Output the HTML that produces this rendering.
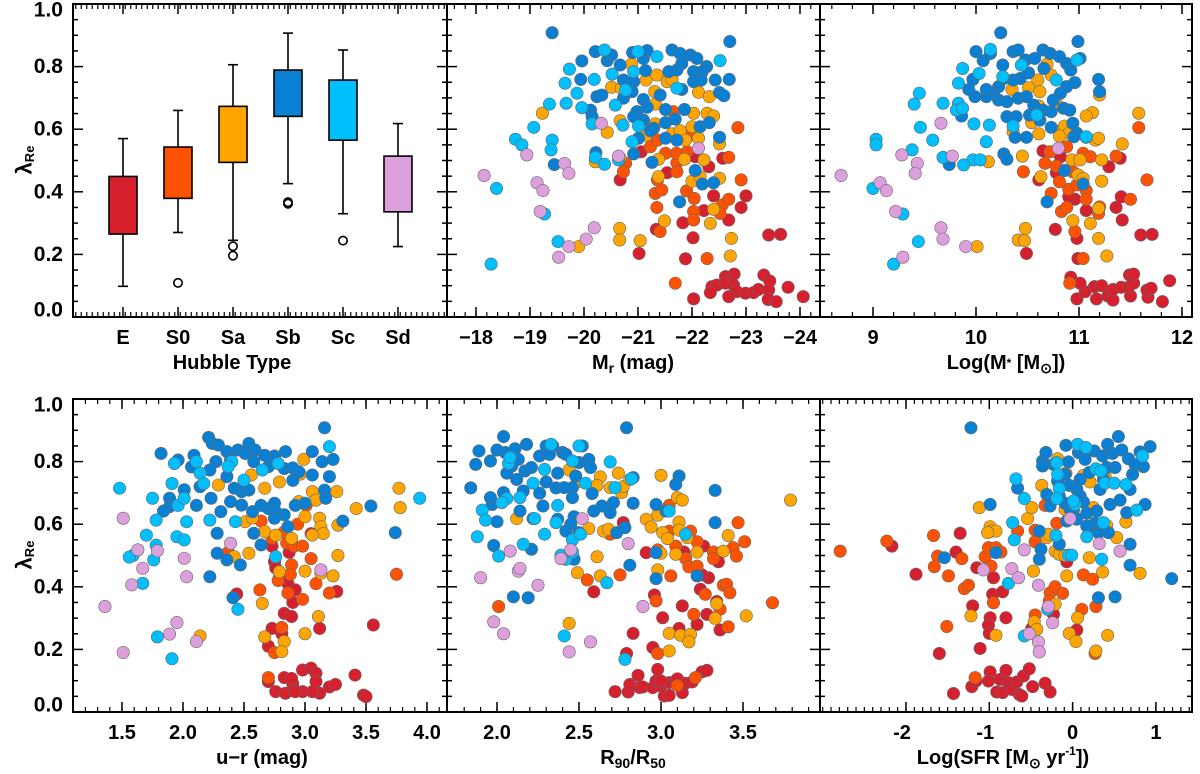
<!DOCTYPE html>
<html><head><meta charset="utf-8"><title>lambda_Re vs galaxy properties</title>
<style>
html,body{margin:0;padding:0;background:#fff;}
svg{display:block;font-family:"Liberation Sans",sans-serif;font-weight:bold;}
</style></head>
<body>
<svg id="fig" width="1200" height="774" viewBox="0 0 1200 774" xmlns="http://www.w3.org/2000/svg"></svg>
<script>
// ===== Data =====
const hubbleTypes = ["E","S0","Sa","Sb","Sc","Sd"];
const boxWhiskerHigh = [0.57,0.66,0.806,0.907,0.853,0.618];
const boxQ3 = [0.449,0.543,0.673,0.789,0.757,0.514];
const boxQ1 = [0.265,0.379,0.494,0.641,0.565,0.336];
const boxWhiskerLow = [0.098,0.27,0.245,0.426,0.33,0.225];
const boxOutliers = [[],[0.109],[0.226,0.196],[0.367,0.362],[0.244],[]];

// Mr panel
const mrE = [[-22.03,0.058],[-22.37,0.097],[-22.46,0.102],[-22.62,0.129],[-22.78,0.137],[-22.62,0.108],[-22.77,0.102],[-22.83,0.081],[-22.99,0.076],[-23.14,0.078],[-23.23,0.088],[-23.33,0.134],[-23.44,0.115],[-23.42,0.086],[-23.41,0.056],[-23.56,0.049],[-23.78,0.095],[-24.06,0.065],[-22.68,0.065],[-22.34,0.078],[-23.42,0.262],[-23.64,0.264],[-22.02,0.253],[-21.88,0.186],[-21.02,0.203],[-21.34,0.28],[-21.83,0.301],[-22.22,0.34],[-22.40,0.387],[-22.68,0.31],[-22.91,0.35],[-23.00,0.387],[-21.54,0.461],[-22.31,0.48],[-22.57,0.507],[-20.67,0.438],[-21.06,0.528],[-22.06,0.512]];
const mrS0 = [[-22.85,0.605],[-21.69,0.108],[-22.28,0.187],[-21.35,0.35],[-21.41,0.273],[-21.32,0.395],[-21.44,0.406],[-21.36,0.438],[-21.90,0.403],[-22.04,0.379],[-22.03,0.337],[-22.03,0.31],[-22.56,0.358],[-22.68,0.376],[-22.91,0.438],[-22.52,0.331],[-21.72,0.493],[-21.72,0.464],[-21.71,0.523],[-21.91,0.528],[-21.97,0.581],[-21.51,0.523],[-21.23,0.544],[-21.36,0.565],[-20.77,0.491],[-20.73,0.464],[-21.65,0.656],[-22.68,0.51]];
const mrSa = [[-19.23,0.651],[-20.88,0.808],[-21.15,0.757],[-21.35,0.773],[-21.54,0.752],[-21.63,0.759],[-20.51,0.734],[-20.69,0.731],[-21.31,0.72],[-22.12,0.718],[-22.32,0.704],[-21.32,0.68],[-22.03,0.651],[-22.28,0.651],[-22.40,0.642],[-20.67,0.627],[-20.43,0.59],[-21.15,0.581],[-21.32,0.617],[-21.63,0.585],[-21.78,0.595],[-22.00,0.608],[-22.12,0.571],[-21.88,0.565],[-20.67,0.507],[-20.21,0.496],[-21.38,0.504],[-21.86,0.504],[-22.22,0.502],[-22.51,0.553],[-22.00,0.434],[-22.51,0.443],[-22.40,0.344],[-21.49,0.307],[-22.34,0.299],[-22.73,0.251],[-22.71,0.195],[-20.66,0.283],[-20.66,0.246],[-21.04,0.244],[-19.90,0.225],[-22.15,0.448],[-21.38,0.448]];
const mrSb = [[-19.41,0.908],[-20.21,0.848],[-19.96,0.818],[-19.94,0.759],[-20.43,0.819],[-20.51,0.837],[-20.67,0.805],[-20.90,0.845],[-21.10,0.826],[-21.17,0.851],[-21.14,0.787],[-20.73,0.757],[-20.92,0.752],[-20.89,0.72],[-20.24,0.704],[-20.33,0.709],[-20.73,0.699],[-21.10,0.695],[-21.41,0.709],[-21.63,0.853],[-21.78,0.842],[-21.97,0.837],[-22.09,0.826],[-22.27,0.80],[-22.19,0.784],[-22.03,0.784],[-21.81,0.81],[-21.72,0.789],[-21.57,0.784],[-22.03,0.752],[-22.17,0.757],[-22.43,0.757],[-22.69,0.759],[-21.81,0.727],[-22.51,0.717],[-22.59,0.707],[-22.70,0.88],[-20.12,0.661],[-20.15,0.64],[-20.98,0.656],[-21.10,0.629],[-20.92,0.64],[-21.17,0.67],[-21.51,0.663],[-21.86,0.663],[-21.69,0.632],[-21.51,0.621],[-22.15,0.608],[-22.32,0.621],[-21.29,0.603],[-21.01,0.571],[-21.23,0.595],[-21.51,0.571],[-21.72,0.565],[-22.51,0.574],[-20.92,0.521],[-21.26,0.494],[-22.06,0.468],[-22.40,0.429],[-22.19,0.425],[-21.77,0.368],[-19.45,0.487],[-20.22,0.525]];
const mrSc = [[-18.28,0.169],[-18.38,0.411],[-18.73,0.568],[-18.85,0.55],[-19.07,0.606],[-19.36,0.68],[-19.41,0.565],[-19.39,0.534],[-19.27,0.329],[-19.52,0.241],[-19.65,0.747],[-19.67,0.683],[-19.73,0.792],[-19.87,0.715],[-19.96,0.669],[-20.15,0.617],[-20.19,0.759],[-20.38,0.853],[-20.21,0.51],[-20.38,0.488],[-20.52,0.776],[-20.58,0.677],[-20.72,0.613],[-20.89,0.56],[-21.01,0.61],[-20.92,0.784],[-21.00,0.848],[-21.35,0.832],[-21.72,0.731],[-22.52,0.819],[-20.64,0.502],[-20.77,0.725]];
const mrSd = [[-18.15,0.452],[-18.94,0.518],[-19.13,0.429],[-19.24,0.404],[-19.19,0.337],[-19.53,0.191],[-19.72,0.225],[-20.04,0.249],[-20.19,0.285],[-19.64,0.491],[-19.72,0.459],[-20.32,0.619],[-22.12,0.539],[-20.64,0.514]];

// Log mass panel
const msE = [[10.98,0.058],[11.17,0.058],[11.28,0.067],[11.33,0.054],[11.50,0.067],[11.67,0.063],[11.81,0.049],[11.33,0.088],[11.41,0.095],[11.48,0.095],[11.53,0.108],[11.49,0.134],[11.53,0.137],[11.66,0.086],[11.70,0.092],[11.88,0.116],[11.15,0.097],[11.22,0.1],[11.06,0.081],[10.92,0.127],[11.01,0.108],[11.60,0.262],[11.71,0.264],[10.99,0.187],[10.77,0.28],[10.98,0.251],[10.49,0.203],[11.42,0.31],[11.36,0.35],[11.41,0.384],[11.07,0.34],[10.96,0.376],[10.90,0.384],[11.29,0.48],[11.40,0.507],[10.65,0.531],[10.78,0.461],[10.61,0.438],[10.82,0.512],[10.95,0.576]];
const msS0 = [[11.58,0.605],[11.66,0.438],[11.50,0.376],[11.19,0.331],[11.20,0.352],[10.96,0.273],[11.04,0.187],[10.91,0.108],[10.46,0.464],[10.67,0.491],[10.73,0.395],[10.81,0.432],[10.83,0.337],[10.88,0.35],[10.90,0.408],[10.98,0.422],[11.07,0.404],[11.07,0.376],[10.72,0.528],[10.88,0.544],[11.04,0.523],[11.11,0.512],[11.36,0.514],[10.94,0.464],[10.78,0.482]];
const msSa = [[11.58,0.651],[11.42,0.553],[11.22,0.502],[11.22,0.434],[11.19,0.347],[11.11,0.299],[11.19,0.251],[11.27,0.195],[10.94,0.308],[10.48,0.283],[10.41,0.246],[10.47,0.244],[10.01,0.225],[10.12,0.496],[10.45,0.514],[10.63,0.448],[10.93,0.502],[11.01,0.502],[10.99,0.454],[11.04,0.443],[11.13,0.653],[11.07,0.642],[11.16,0.565],[11.19,0.571],[11.20,0.709],[10.82,0.595],[10.86,0.61],[10.90,0.587],[10.81,0.578],[10.61,0.585],[10.54,0.621],[10.61,0.674],[10.78,0.683],[10.60,0.757],[10.51,0.733],[10.35,0.727],[10.69,0.808],[10.73,0.773],[10.62,0.72],[10.36,0.592]];
const msSb = [[10.24,0.908],[10.99,0.88],[11.01,0.826],[10.00,0.848],[10.07,0.819],[10.14,0.842],[10.26,0.805],[10.36,0.848],[10.41,0.853],[10.48,0.821],[10.57,0.826],[10.65,0.853],[10.72,0.842],[10.81,0.832],[10.88,0.81],[10.92,0.789],[10.96,0.749],[10.88,0.736],[10.82,0.715],[10.75,0.693],[10.66,0.794],[10.51,0.78],[10.43,0.762],[10.36,0.757],[10.27,0.762],[10.22,0.736],[10.17,0.715],[10.10,0.704],[9.99,0.704],[9.93,0.727],[9.97,0.759],[10.10,0.727],[10.22,0.693],[10.30,0.688],[10.41,0.699],[10.49,0.704],[10.56,0.677],[10.65,0.661],[10.73,0.656],[10.85,0.667],[10.91,0.661],[10.30,0.64],[10.39,0.64],[10.52,0.645],[10.62,0.629],[10.73,0.606],[10.94,0.619],[10.98,0.587],[11.07,0.574],[10.49,0.574],[10.38,0.574],[11.19,0.759],[11.20,0.72],[10.27,0.521],[10.30,0.504],[9.74,0.487],[10.69,0.368],[10.86,0.468],[11.04,0.425],[9.86,0.642],[10.95,0.576]];
const msSc = [[9.20,0.169],[9.00,0.411],[9.03,0.568],[9.03,0.55],[9.38,0.534],[9.29,0.329],[9.44,0.241],[9.40,0.68],[9.45,0.715],[9.46,0.606],[9.58,0.565],[9.68,0.683],[9.68,0.51],[9.83,0.683],[9.81,0.661],[9.87,0.667],[9.83,0.747],[9.87,0.794],[10.03,0.778],[9.98,0.617],[10.13,0.613],[10.10,0.56],[9.97,0.502],[10.04,0.502],[9.88,0.486],[10.14,0.855],[10.26,0.768],[10.36,0.61],[10.44,0.805],[10.78,0.757],[10.98,0.821],[11.07,0.576],[10.59,0.645]];
const msSd = [[8.69,0.452],[9.07,0.429],[9.13,0.404],[9.22,0.337],[9.28,0.518],[9.43,0.491],[9.41,0.459],[9.66,0.285],[9.68,0.249],[9.90,0.225],[9.29,0.191],[9.66,0.619],[9.77,0.514],[10.80,0.539]];

// u-r panel
const urE = [[2.70,0.097],[2.76,0.065],[2.83,0.11],[2.84,0.06],[2.90,0.09],[2.98,0.134],[2.98,0.065],[3.05,0.14],[3.09,0.124],[3.09,0.097],[3.12,0.06],[3.20,0.08],[3.25,0.088],[3.41,0.118],[3.48,0.054],[3.50,0.049],[3.06,0.065],[2.92,0.065],[2.89,0.107],[2.73,0.53],[2.75,0.48],[2.76,0.46],[2.79,0.43],[2.86,0.41],[2.92,0.39],[2.83,0.315],[2.89,0.305],[2.90,0.35],[2.73,0.267],[2.70,0.21],[2.81,0.25],[3.12,0.267],[3.26,0.385],[3.56,0.278],[2.44,0.377],[3.05,0.57],[2.87,0.51]];
const urS0 = [[3.01,0.66],[2.94,0.60],[2.83,0.575],[2.64,0.61],[2.73,0.555],[2.85,0.54],[2.91,0.53],[2.98,0.53],[3.05,0.49],[2.89,0.47],[2.88,0.44],[2.78,0.42],[2.86,0.38],[2.98,0.36],[3.09,0.41],[3.20,0.38],[2.63,0.39],[2.37,0.51],[2.81,0.27],[2.75,0.19],[2.70,0.11],[3.75,0.44]];
const urSa = [[2.29,0.725],[2.56,0.757],[2.67,0.715],[2.79,0.735],[2.96,0.76],[2.99,0.807],[3.06,0.704],[3.09,0.677],[3.26,0.704],[2.51,0.608],[2.57,0.62],[2.67,0.576],[2.76,0.565],[2.89,0.555],[3.00,0.624],[3.12,0.619],[3.13,0.592],[3.15,0.57],[3.06,0.565],[3.27,0.597],[3.27,0.50],[3.13,0.443],[3.23,0.435],[3.00,0.45],[2.79,0.448],[2.65,0.347],[2.67,0.24],[2.83,0.225],[2.81,0.193],[3.00,0.25],[3.11,0.305],[2.14,0.243],[3.42,0.65],[3.77,0.715],[3.78,0.653],[2.54,0.507],[2.42,0.496],[2.95,0.672]];
const urSb = [[2.21,0.877],[1.82,0.826],[1.96,0.805],[2.09,0.82],[2.07,0.783],[2.14,0.72],[2.11,0.66],[2.01,0.71],[1.89,0.683],[1.89,0.656],[1.84,0.642],[2.24,0.858],[2.29,0.853],[2.27,0.80],[2.22,0.773],[2.36,0.832],[2.39,0.805],[2.45,0.837],[2.51,0.826],[2.54,0.858],[2.59,0.837],[2.67,0.82],[2.75,0.818],[2.84,0.832],[2.58,0.80],[2.70,0.784],[2.83,0.778],[2.90,0.78],[3.06,0.832],[3.14,0.80],[3.23,0.807],[3.20,0.752],[3.06,0.757],[3.16,0.709],[2.90,0.74],[2.36,0.752],[2.42,0.715],[2.48,0.704],[2.54,0.709],[2.39,0.672],[2.48,0.661],[2.57,0.64],[2.64,0.66],[2.70,0.65],[2.75,0.667],[2.76,0.64],[2.83,0.63],[2.75,0.619],[2.86,0.592],[2.92,0.66],[3.00,0.667],[2.31,0.64],[2.23,0.683],[2.28,0.571],[2.28,0.507],[2.36,0.486],[2.47,0.47],[2.22,0.432],[2.41,0.365],[2.64,0.534],[3.17,0.683],[3.31,0.61],[3.54,0.658],[3.74,0.573],[3.16,0.908],[2.58,0.571],[2.95,0.767]];
const urSc = [[1.48,0.715],[1.75,0.683],[1.78,0.613],[1.93,0.794],[1.91,0.73],[1.96,0.66],[2.03,0.608],[1.95,0.56],[2.01,0.55],[1.70,0.565],[1.78,0.533],[1.76,0.486],[1.59,0.50],[1.56,0.495],[1.67,0.411],[1.79,0.24],[1.91,0.17],[2.11,0.80],[2.14,0.763],[2.40,0.80],[2.37,0.784],[2.50,0.741],[2.65,0.773],[2.78,0.794],[2.22,0.613],[2.43,0.608],[2.76,0.496],[2.45,0.328],[3.20,0.848],[3.94,0.683],[2.01,0.683],[2.17,0.73]];
const urSd = [[1.36,0.337],[1.51,0.619],[1.63,0.518],[1.67,0.459],[1.58,0.406],[1.79,0.515],[1.95,0.286],[1.89,0.249],[1.51,0.19],[2.01,0.491],[2.03,0.432],[2.11,0.225],[2.39,0.539],[3.13,0.454]];

// R90/R50 panel
const rcE = [[2.72,0.065],[2.80,0.064],[2.81,0.088],[2.86,0.117],[2.87,0.078],[2.89,0.08],[2.95,0.078],[2.97,0.099],[2.98,0.136],[3.00,0.083],[3.02,0.051],[3.05,0.053],[3.05,0.094],[3.09,0.099],[3.10,0.106],[3.13,0.062],[3.15,0.092],[3.19,0.096],[3.25,0.128],[3.28,0.133],[3.00,0.099],[2.79,0.187],[2.83,0.251],[2.59,0.384],[2.91,0.509],[2.96,0.374],[3.01,0.301],[3.13,0.339],[3.11,0.267],[2.95,0.206],[3.22,0.28],[3.28,0.312],[3.36,0.262],[3.34,0.353],[3.29,0.429],[3.25,0.438],[3.26,0.53],[3.35,0.48],[3.14,0.511],[2.77,0.605],[3.24,0.392]];
const rcS0 = [[2.01,0.337],[2.55,0.422],[2.75,0.438],[2.69,0.568],[2.97,0.355],[2.98,0.187],[3.06,0.435],[3.05,0.578],[3.05,0.66],[3.09,0.53],[3.18,0.578],[3.15,0.49],[3.17,0.464],[3.22,0.466],[3.22,0.544],[3.32,0.511],[3.32,0.49],[3.44,0.525],[3.46,0.498],[3.51,0.544],[3.47,0.605],[3.38,0.405],[3.40,0.408],[3.42,0.381],[3.36,0.328],[3.41,0.272],[3.20,0.312],[3.27,0.376],[3.68,0.349],[3.10,0.085],[3.21,0.11],[2.98,0.518]];
const rcSa = [[2.12,0.618],[2.44,0.773],[2.49,0.735],[2.56,0.586],[2.61,0.496],[2.63,0.751],[2.61,0.724],[2.65,0.578],[2.68,0.584],[2.69,0.717],[2.74,0.763],[2.76,0.701],[2.77,0.72],[2.81,0.743],[2.49,0.445],[2.63,0.435],[2.44,0.283],[2.91,0.616],[2.94,0.591],[2.98,0.629],[3.00,0.756],[3.01,0.573],[3.04,0.554],[3.00,0.507],[3.09,0.504],[3.10,0.685],[3.13,0.677],[3.11,0.607],[3.11,0.581],[3.16,0.557],[3.22,0.511],[3.38,0.514],[3.41,0.564],[2.98,0.454],[3.05,0.251],[3.12,0.245],[3.18,0.248],[3.17,0.224],[3.05,0.195],[3.34,0.346],[3.33,0.299],[3.52,0.307],[3.79,0.677]];
const rcSb = [[1.84,0.716],[1.87,0.791],[1.89,0.834],[1.96,0.802],[2.00,0.837],[2.04,0.88],[2.05,0.829],[2.09,0.786],[2.06,0.763],[2.11,0.841],[2.13,0.807],[2.12,0.743],[2.18,0.855],[2.17,0.77],[2.21,0.781],[2.26,0.818],[2.30,0.85],[2.34,0.85],[2.32,0.823],[2.40,0.829],[2.42,0.823],[2.16,0.706],[2.26,0.699],[2.30,0.735],[2.36,0.716],[2.41,0.717],[2.46,0.717],[1.97,0.663],[1.96,0.685],[2.04,0.701],[2.14,0.642],[2.28,0.658],[2.37,0.763],[2.50,0.797],[2.52,0.85],[2.56,0.807],[2.57,0.781],[2.48,0.754],[2.46,0.685],[2.47,0.624],[2.45,0.60],[2.42,0.578],[2.50,0.573],[2.58,0.698],[2.59,0.642],[2.64,0.658],[2.69,0.637],[2.71,0.669],[2.73,0.573],[2.78,0.589],[2.83,0.749],[2.83,0.667],[2.97,0.663],[2.97,0.509],[3.03,0.642],[3.11,0.754],[3.09,0.727],[3.33,0.708],[3.33,0.605],[2.00,0.608],[1.98,0.532],[2.21,0.52],[2.10,0.368],[2.19,0.365],[2.47,0.488],[2.81,0.469],[2.97,0.426],[3.22,0.435],[2.79,0.908],[2.37,0.616],[2.22,0.618]];
const rcSc = [[1.88,0.56],[1.91,0.645],[1.93,0.613],[2.01,0.498],[2.07,0.794],[2.06,0.682],[2.03,0.669],[2.14,0.685],[2.16,0.536],[2.23,0.618],[2.22,0.731],[2.29,0.775],[2.29,0.568],[2.33,0.855],[2.37,0.66],[2.36,0.605],[2.39,0.501],[2.42,0.488],[2.46,0.55],[2.46,0.511],[2.50,0.85],[2.46,0.802],[2.54,0.731],[2.51,0.568],[2.69,0.799],[2.72,0.717],[2.82,0.745],[2.67,0.413],[2.78,0.168],[2.41,0.243],[3.05,0.642],[3.15,0.568],[2.08,0.813]];
const rcSd = [[1.90,0.429],[1.98,0.288],[2.04,0.25],[2.08,0.514],[2.13,0.45],[2.14,0.459],[2.25,0.405],[2.39,0.49],[2.45,0.518],[2.52,0.618],[2.57,0.224],[2.44,0.192],[2.80,0.538],[2.89,0.337]];

// SFR panel
const sfE = [[-1.43,0.059],[-1.21,0.081],[-1.16,0.099],[-0.99,0.128],[-1.01,0.099],[-0.91,0.064],[-0.84,0.062],[-0.87,0.104],[-0.80,0.133],[-0.77,0.094],[-0.73,0.072],[-0.67,0.096],[-0.64,0.056],[-0.61,0.051],[-0.59,0.115],[-0.52,0.138],[-0.48,0.081],[-0.33,0.092],[-0.27,0.064],[-1.88,0.44],[-2.17,0.53],[-1.60,0.187],[-1.35,0.571],[-1.40,0.511],[-1.15,0.461],[-0.95,0.429],[-0.96,0.376],[-0.84,0.384],[-1.20,0.339],[-0.99,0.301],[-1.01,0.277],[-1.00,0.251],[-0.80,0.301],[-1.11,0.203],[-0.07,0.48],[-0.23,0.312],[-0.49,0.267],[0.05,0.262]];
const sfS0 = [[-2.79,0.514],[-2.23,0.546],[-1.67,0.564],[-1.62,0.498],[-1.66,0.464],[-1.49,0.435],[-1.30,0.394],[-1.25,0.405],[-1.33,0.49],[-1.51,0.273],[-1.05,0.496],[-1.01,0.525],[-0.92,0.525],[-0.86,0.511],[-0.98,0.466],[-0.95,0.349],[-0.66,0.578],[-0.45,0.581],[-0.45,0.544],[-0.19,0.603],[-0.33,0.66],[-0.27,0.381],[-0.21,0.40],[-0.12,0.379],[-0.28,0.355],[-0.45,0.31],[0.11,0.328],[0.13,0.438],[0.24,0.424],[0.28,0.337],[0.27,0.187],[-1.17,0.11]];
const sfSa = [[-1.12,0.653],[-0.99,0.592],[-0.97,0.578],[-0.92,0.578],[-1.02,0.573],[-0.54,0.618],[-0.49,0.653],[-0.37,0.724],[-0.31,0.557],[-0.29,0.568],[-0.21,0.514],[-0.16,0.504],[-0.09,0.50],[-0.18,0.809],[-0.08,0.763],[0.13,0.756],[0.21,0.735],[0.39,0.754],[0.41,0.596],[0.53,0.557],[0.64,0.607],[0.20,0.493],[0.36,0.447],[0.81,0.443],[-0.07,0.435],[-0.47,0.45],[-0.21,0.344],[-0.46,0.288],[-0.43,0.264],[-0.92,0.245],[-1.22,0.307],[-0.04,0.251],[0.04,0.225],[0.42,0.245],[0.06,0.301],[0.28,0.195],[0.03,0.621],[0.25,0.653],[-0.09,0.647]];
const sfSb = [[-1.22,0.908],[-0.99,0.663],[-1.54,0.493],[-0.92,0.509],[-0.66,0.715],[-0.40,0.488],[-0.38,0.52],[-0.16,0.536],[-0.36,0.802],[-0.32,0.829],[-0.36,0.786],[-0.23,0.791],[-0.08,0.852],[-0.05,0.799],[-0.09,0.759],[-0.04,0.724],[0.07,0.829],[0.15,0.807],[0.26,0.834],[0.36,0.818],[0.42,0.855],[0.48,0.826],[0.55,0.88],[0.59,0.837],[0.67,0.809],[0.81,0.831],[0.93,0.848],[0.85,0.784],[0.75,0.791],[0.72,0.759],[0.69,0.711],[0.51,0.781],[0.41,0.781],[0.33,0.711],[0.20,0.765],[0.05,0.711],[0.09,0.69],[0.13,0.671],[-0.31,0.695],[-0.16,0.69],[-0.09,0.667],[0.01,0.647],[0.17,0.635],[0.29,0.642],[0.45,0.663],[0.57,0.677],[0.87,0.663],[0.65,0.637],[-0.07,0.61],[0.05,0.616],[0.21,0.586],[0.31,0.573],[0.43,0.573],[0.27,0.603],[0.17,0.594],[0.69,0.536],[0.69,0.469],[1.19,0.426],[0.31,0.365],[0.51,0.368],[-0.40,0.578],[-0.18,0.738],[-0.03,0.647],[-0.27,0.658],[0.09,0.743],[0.37,0.743]];
const sfSc = [[-0.68,0.745],[-0.58,0.682],[-0.72,0.605],[-0.70,0.55],[-0.77,0.411],[-0.58,0.243],[-0.30,0.328],[-0.20,0.564],[-0.05,0.501],[-0.01,0.501],[-0.19,0.797],[-0.18,0.759],[-0.16,0.714],[0.03,0.663],[0.06,0.855],[0.16,0.845],[0.28,0.777],[0.34,0.77],[0.39,0.731],[0.50,0.731],[0.64,0.727],[0.77,0.645],[0.84,0.818],[0.17,0.56],[0.35,0.488],[0.37,0.605],[-0.19,0.682],[0.01,0.674]];
const sfSd = [[-1.07,0.454],[-0.73,0.458],[-0.65,0.429],[-0.58,0.518],[-0.41,0.405],[-0.29,0.337],[-0.24,0.285],[-0.52,0.25],[-0.41,0.224],[-0.40,0.192],[-0.03,0.618],[0.32,0.538],[0.57,0.514]];

const mrTicks = [-18,-19,-20,-21,-22,-23,-24];
const msTicks = [9,10,11,12];
const urTicks = [1.5,2.0,2.5,3.0,3.5,4.0];
const rcTicks = [2.0,2.5,3.0,3.5];
const sfTicks = [-2,-1,0,1];
const yTicks = [0.0,0.2,0.4,0.6,0.8,1.0];

// ===== Drawing =====
const NS = "http://www.w3.org/2000/svg";
const svg = document.getElementById("fig");
const COLORS = {E:"#d6202e",S0:"#ff5200",Sa:"#ffa500",Sb:"#0a80d4",Sc:"#00bfff",Sd:"#dda0dd"};

function mk(tag, attrs, name, parent) {
  const el = document.createElementNS(NS, tag);
  for (const k in attrs) el.setAttribute(k, attrs[k]);
  
  
  (parent || svg).appendChild(el);
  return el;
}
function txt(x, y, s, name, size, anchor, parent) {
  const t = mk("text", {x:x, y:y, "font-size":size||20, "text-anchor":anchor||"middle", "dominant-baseline":"central", fill:"#000"}, name, parent);
  t.innerHTML = s;
  return t;
}

function makePanel(name, x0, x1, y0, y1, xmap, majors, minorStep, minorFrom, minorTo) {
  const g = mk("g", {}, name);
  const ymap = v => y1 - v * (y1 - y0);
  // y ticks both sides
  for (let i = 0; i <= 20; i++) {
    const v = i * 0.05, y = ymap(v), major = (i % 4 === 0), L = major ? 10 : 5;
    mk("line", {x1:x0, y1:y, x2:x0+L, y2:y, stroke:"#000", "stroke-width":1.5}, "y-tick", g);
    mk("line", {x1:x1, y1:y, x2:x1-L, y2:y, stroke:"#000", "stroke-width":1.5}, "y-tick-right", g);
  }
  // x minor ticks
  if (minorStep) {
    const n = Math.round((minorTo - minorFrom) / minorStep);
    for (let i = 0; i <= n; i++) {
      const v = minorFrom + i * minorStep, x = xmap(v);
      if (x <= x0 + 1 || x >= x1 - 1) continue;
      mk("line", {x1:x, y1:y1, x2:x, y2:y1-5, stroke:"#000", "stroke-width":1.2}, "x-minor-tick", g);
      mk("line", {x1:x, y1:y0, x2:x, y2:y0+5, stroke:"#000", "stroke-width":1.2}, "x-minor-tick-top", g);
    }
  }
  majors.forEach(v => {
    const x = xmap(v);
    mk("line", {x1:x, y1:y1, x2:x, y2:y1-10, stroke:"#000", "stroke-width":1.5}, "x-major-tick", g);
    mk("line", {x1:x, y1:y0, x2:x, y2:y0+10, stroke:"#000", "stroke-width":1.5}, "x-major-tick-top", g);
  });
  return {g, ymap};
}
function frame(x0, x1, y0, y1, name) {
  mk("rect", {x:x0, y:y0, width:x1-x0, height:y1-y0, fill:"none", stroke:"#000", "stroke-width":2}, name);
}
function scatter(p, xmap, arr, type, name) {
  const g = mk("g", {}, name, p.g);
  arr.forEach(d => {
    const c = mk("circle", {cx:xmap(d[0]), cy:p.ymap(d[1]), r:6.2, fill:COLORS[type], stroke:"#666", "stroke-width":0.6}, "point-" + type, g);
  });
}
function yLabels(x, y0, y1, name) {
  const ymap = v => y1 - v * (y1 - y0);
  yTicks.forEach((v, i) => {
    let y = ymap(v);
    if (i === 0) y -= 7;
    if (i === yTicks.length - 1) y += 6;
    txt(x, y, v.toFixed(1), name, 21, "end");
  });
}
function fmtNeg(v, d) { const s = Math.abs(v).toFixed(d); return v < 0 ? "\u2212" + s : s; }

// panel geometry
const TY0 = 4, TY1 = 317, BY0 = 399, BY1 = 712;
const P1 = [73,447], P2 = [447,820], P3 = [820,1192];

// --- Box plot panel ---
const boxX = i => 123 + 55 * i;
const pb = makePanel("hubble-type-panel", P1[0], P1[1], TY0, TY1, v => 73 + (v + 0.5) * 5.5, [], 1, 0, 67);
hubbleTypes.forEach((t, i) => {
  const x = boxX(i);
  mk("line", {x1:x, y1:TY1, x2:x, y2:TY1-10, stroke:"#000", "stroke-width":1.5}, "x-major-tick", pb.g);
  mk("line", {x1:x, y1:TY0, x2:x, y2:TY0+10, stroke:"#000", "stroke-width":1.5}, "x-major-tick-top", pb.g);
  const bg = mk("g", {}, "box-" + t.toLowerCase(), pb.g);
  mk("line", {x1:x, y1:pb.ymap(boxWhiskerHigh[i]), x2:x, y2:pb.ymap(boxWhiskerLow[i]), stroke:"#000", "stroke-width":1.6}, "whisker", bg);
  mk("line", {x1:x-5, y1:pb.ymap(boxWhiskerHigh[i]), x2:x+5, y2:pb.ymap(boxWhiskerHigh[i]), stroke:"#000", "stroke-width":1.6}, "whisker-cap-top", bg);
  mk("line", {x1:x-5, y1:pb.ymap(boxWhiskerLow[i]), x2:x+5, y2:pb.ymap(boxWhiskerLow[i]), stroke:"#000", "stroke-width":1.6}, "whisker-cap-bottom", bg);
  mk("rect", {x:x-14, y:pb.ymap(boxQ3[i]), width:28, height:pb.ymap(boxQ1[i]) - pb.ymap(boxQ3[i]), fill:COLORS[t], stroke:"#000", "stroke-width":1.6}, "box-iqr", bg);
  boxOutliers[i].forEach(o => {
    mk("circle", {cx:x, cy:pb.ymap(o), r:4.2, fill:"none", stroke:"#000", "stroke-width":1.6}, "outlier", bg);
  });
  txt(x, 338, t, "x-tick-label", 20);
});
frame(P1[0], P1[1], TY0, TY1, "hubble-panel-frame");
txt(232, 363, "Hubble Type", "x-axis-title", 20);
yLabels(63, TY0, TY1, "y-tick-label");

// --- Mr panel ---
const xMr = v => 476 + (-18 - v) * 54;
const p2 = makePanel("mr-panel", P2[0], P2[1], TY0, TY1, xMr, mrTicks, -0.2, -17.4, -24.6);
[["E",mrE],["S0",mrS0],["Sa",mrSa],["Sb",mrSb],["Sc",mrSc],["Sd",mrSd]].forEach(s => scatter(p2, xMr, s[1], s[0], "series-" + s[0].toLowerCase()));
frame(P2[0], P2[1], TY0, TY1, "mr-panel-frame");
mrTicks.forEach(v => txt(xMr(v), 338, fmtNeg(v, 0), "x-tick-label", 20));
txt(633, 363, 'M<tspan font-size="14" dy="5">r</tspan><tspan dy="-5"> (mag)</tspan>', "x-axis-title", 20);

// --- Mass panel ---
const xMs = v => 873 + (v - 9) * 103;
const p3 = makePanel("mass-panel", P3[0], P3[1], TY0, TY1, xMs, msTicks, 0.2, 8.4, 12.2);
[["E",msE],["S0",msS0],["Sa",msSa],["Sb",msSb],["Sc",msSc],["Sd",msSd]].forEach(s => scatter(p3, xMs, s[1], s[0], "series-" + s[0].toLowerCase()));
frame(P3[0], P3[1], TY0, TY1, "mass-panel-frame");
msTicks.forEach(v => txt(xMs(v), 338, String(v), "x-tick-label", 20));
txt(1006, 363, 'Log(M<tspan font-size="12">*</tspan> [M<tspan font-size="14" dy="5">\u2299</tspan><tspan dy="-5">])</tspan>', "x-axis-title", 20);

// --- u-r panel ---
const xUr = v => 122 + (v - 1.5) * 122;
const p4 = makePanel("ur-panel", P1[0], P1[1], BY0, BY1, xUr, urTicks, 0.1, 1.1, 4.3);
[["E",urE],["S0",urS0],["Sa",urSa],["Sb",urSb],["Sc",urSc],["Sd",urSd]].forEach(s => scatter(p4, xUr, s[1], s[0], "series-" + s[0].toLowerCase()));
frame(P1[0], P1[1], BY0, BY1, "ur-panel-frame");
urTicks.forEach(v => txt(xUr(v), 733, v.toFixed(1), "x-tick-label", 20));
txt(262, 758, "u\u2212r (mag)", "x-axis-title", 20);
yLabels(63, BY0, BY1, "y-tick-label");

// --- R90/R50 panel ---
const xRc = v => 497 + (v - 2) * 164;
const p5 = makePanel("concentration-panel", P2[0], P2[1], BY0, BY1, xRc, rcTicks, 0.1, 1.7, 4.0);
[["E",rcE],["S0",rcS0],["Sa",rcSa],["Sb",rcSb],["Sc",rcSc],["Sd",rcSd]].forEach(s => scatter(p5, xRc, s[1], s[0], "series-" + s[0].toLowerCase()));
frame(P2[0], P2[1], BY0, BY1, "concentration-panel-frame");
rcTicks.forEach(v => txt(xRc(v), 733, v.toFixed(1), "x-tick-label", 20));
txt(633, 758, 'R<tspan font-size="14" dy="5">90</tspan><tspan dy="-5">/R</tspan><tspan font-size="14" dy="5">50</tspan>', "x-axis-title", 20);

// --- SFR panel ---
const xSf = v => 906 + (v + 2) * 83.3;
const p6 = makePanel("sfr-panel", P3[0], P3[1], BY0, BY1, xSf, sfTicks, 0.1, -3.0, 1.5);
[["E",sfE],["S0",sfS0],["Sa",sfSa],["Sb",sfSb],["Sc",sfSc],["Sd",sfSd]].forEach(s => scatter(p6, xSf, s[1], s[0], "series-" + s[0].toLowerCase()));
frame(P3[0], P3[1], BY0, BY1, "sfr-panel-frame");
sfTicks.forEach(v => txt(xSf(v) - (v < 0 ? 4 : 0), 733, v < 0 ? "-" + Math.abs(v) : String(v), "x-tick-label", 20));
txt(1003, 758, 'Log(SFR [M<tspan font-size="14" dy="5">\u2299</tspan><tspan dy="-5"> yr</tspan><tspan font-size="12" dy="-7">-1</tspan><tspan dy="7">])</tspan>', "x-axis-title", 20);

// y axis titles
const yt1 = txt(0, 0, '\u03bb<tspan font-size="13" dy="5">Re</tspan>', "y-axis-title", 22);
yt1.setAttribute("transform", "translate(24,160) rotate(-90)");
const yt2 = txt(0, 0, '\u03bb<tspan font-size="13" dy="5">Re</tspan>', "y-axis-title-bottom", 22);
yt2.setAttribute("transform", "translate(24,555) rotate(-90)");
</script>
</body></html>
